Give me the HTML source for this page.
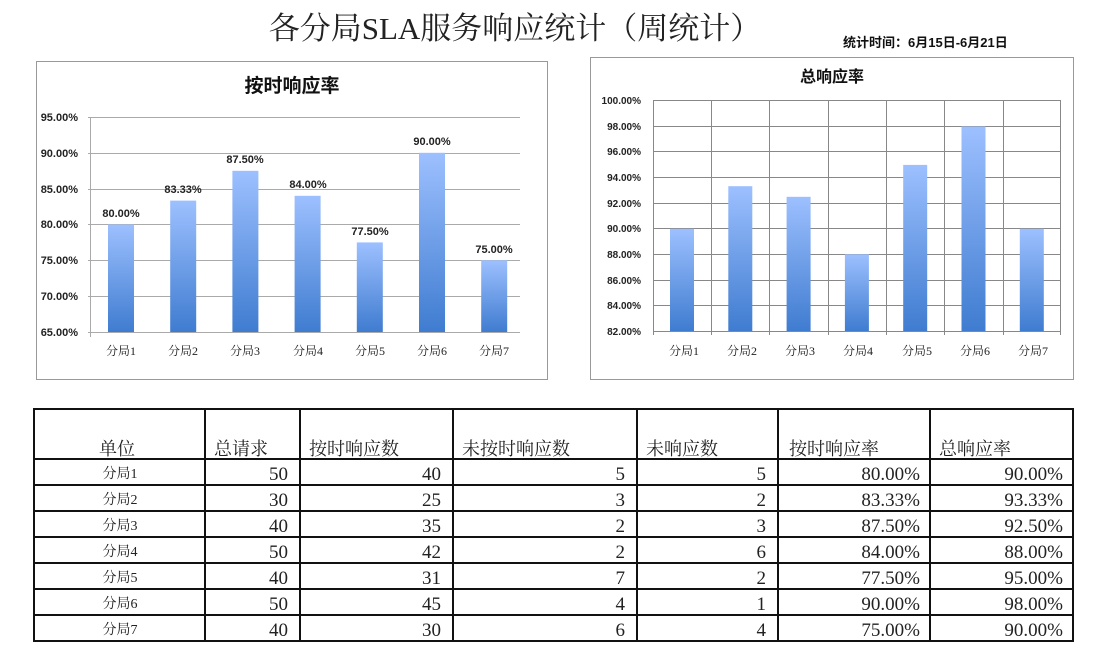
<!DOCTYPE html>
<html><head><meta charset="utf-8"><style>
body{margin:0;background:#fff;width:1100px;height:668px;overflow:hidden}
svg{display:block}
svg text{font-family:"Liberation Sans","Noto Sans CJK SC",sans-serif}
svg .s, svg .s text{font-family:"Liberation Serif","Noto Serif CJK SC","Noto Sans CJK SC",serif}
</style></head><body>
<svg width="1100" height="668" viewBox="0 0 1100 668">
<defs>
<linearGradient id="g" x1="0" y1="0" x2="0" y2="1"><stop offset="0" stop-color="#9dc0ff"/><stop offset="1" stop-color="#3f7cd0"/></linearGradient>
</defs>
<text x="515" y="39" font-size="31" text-anchor="middle" class="s" fill="#222">各分局SLA服务响应统计（周统计）</text>
<text x="843" y="47" font-size="13" font-weight="bold" fill="#111">统计时间：6月15日-6月21日</text>

<!-- left chart -->
<rect x="36.5" y="61.5" width="511" height="318" fill="#fff" stroke="#999"/>
<text x="292" y="92" font-size="19" font-weight="bold" text-anchor="middle" fill="#111">按时响应率</text>
<g stroke="#aaa" stroke-width="1">
<line x1="88" y1="117.5" x2="520" y2="117.5"/><line x1="88" y1="153.5" x2="520" y2="153.5"/><line x1="88" y1="189.5" x2="520" y2="189.5"/><line x1="88" y1="224.5" x2="520" y2="224.5"/><line x1="88" y1="260.5" x2="520" y2="260.5"/><line x1="88" y1="296.5" x2="520" y2="296.5"/><line x1="88" y1="332.5" x2="520" y2="332.5"/>
<line x1="90.5" y1="117" x2="90.5" y2="337"/>
</g>
<g font-size="11" fill="#222" text-anchor="end" font-weight="bold">
<text x="78" y="121">95.00%</text><text x="78" y="157">90.00%</text><text x="78" y="193">85.00%</text><text x="78" y="228">80.00%</text><text x="78" y="264">75.00%</text><text x="78" y="300">70.00%</text><text x="78" y="336">65.00%</text>
</g>
<g fill="url(#g)">
<rect x="108" y="224.5" width="26" height="107.5"/><rect x="170.2" y="200.6" width="26" height="131.4"/><rect x="232.4" y="170.8" width="26" height="161.2"/><rect x="294.6" y="195.8" width="26" height="136.2"/><rect x="356.8" y="242.4" width="26" height="89.6"/><rect x="419" y="152.8" width="26" height="179.2"/><rect x="481.2" y="260.3" width="26" height="71.7"/>
</g>
<g font-size="11" fill="#222" text-anchor="middle" font-weight="bold">
<text x="121" y="217">80.00%</text><text x="183" y="193">83.33%</text><text x="245" y="163">87.50%</text><text x="308" y="188">84.00%</text><text x="370" y="235">77.50%</text><text x="432" y="145">90.00%</text><text x="494" y="253">75.00%</text>
</g>
<g font-size="12" fill="#222" text-anchor="middle" class="s">
<text x="121" y="355">分局1</text><text x="183" y="355">分局2</text><text x="245" y="355">分局3</text><text x="308" y="355">分局4</text><text x="370" y="355">分局5</text><text x="432" y="355">分局6</text><text x="494" y="355">分局7</text>
</g>

<!-- right chart -->
<rect x="590.5" y="57.5" width="483" height="322" fill="#fff" stroke="#999"/>
<text x="832" y="82" font-size="16" font-weight="bold" text-anchor="middle" fill="#111">总响应率</text>
<g stroke="#888" stroke-width="1">
<line x1="653" y1="100.5" x2="1061" y2="100.5"/><line x1="653" y1="126.5" x2="1061" y2="126.5"/><line x1="653" y1="151.5" x2="1061" y2="151.5"/><line x1="653" y1="177.5" x2="1061" y2="177.5"/><line x1="653" y1="203.5" x2="1061" y2="203.5"/><line x1="653" y1="228.5" x2="1061" y2="228.5"/><line x1="653" y1="254.5" x2="1061" y2="254.5"/><line x1="653" y1="280.5" x2="1061" y2="280.5"/><line x1="653" y1="305.5" x2="1061" y2="305.5"/><line x1="653" y1="331.5" x2="1061" y2="331.5"/>
<line x1="653.5" y1="100" x2="653.5" y2="335"/><line x1="711.5" y1="100" x2="711.5" y2="335"/><line x1="769.5" y1="100" x2="769.5" y2="335"/><line x1="828.5" y1="100" x2="828.5" y2="335"/><line x1="886.5" y1="100" x2="886.5" y2="335"/><line x1="944.5" y1="100" x2="944.5" y2="335"/><line x1="1003.5" y1="100" x2="1003.5" y2="335"/><line x1="1060.5" y1="100" x2="1060.5" y2="335"/>
</g>
<g font-size="10" fill="#222" text-anchor="end" font-weight="bold">
<text x="641" y="104">100.00%</text><text x="641" y="130">98.00%</text><text x="641" y="155">96.00%</text><text x="641" y="181">94.00%</text><text x="641" y="207">92.00%</text><text x="641" y="232">90.00%</text><text x="641" y="258">88.00%</text><text x="641" y="284">86.00%</text><text x="641" y="309">84.00%</text><text x="641" y="335">82.00%</text>
</g>
<g fill="url(#g)">
<rect x="670" y="228.8" width="24" height="102.2"/><rect x="728.3" y="186.2" width="24" height="144.8"/><rect x="786.6" y="196.8" width="24" height="134.2"/><rect x="844.9" y="254.3" width="24" height="76.7"/><rect x="903.2" y="164.9" width="24" height="166.1"/><rect x="961.5" y="126.5" width="24" height="204.5"/><rect x="1019.8" y="228.8" width="24" height="102.2"/>
</g>
<g font-size="12" fill="#222" text-anchor="middle" class="s">
<text x="684" y="355">分局1</text><text x="742" y="355">分局2</text><text x="800" y="355">分局3</text><text x="858" y="355">分局4</text><text x="917" y="355">分局5</text><text x="975" y="355">分局6</text><text x="1033" y="355">分局7</text>
</g>

<!-- table -->
<g stroke="#111" stroke-width="2" fill="none">
<rect x="34" y="409" width="1039" height="232"/>
<line x1="205" y1="409" x2="205" y2="641"/><line x1="300" y1="409" x2="300" y2="641"/><line x1="453" y1="409" x2="453" y2="641"/><line x1="637" y1="409" x2="637" y2="641"/><line x1="778" y1="409" x2="778" y2="641"/><line x1="930" y1="409" x2="930" y2="641"/>
<line x1="34" y1="459" x2="1073" y2="459"/><line x1="34" y1="485" x2="1073" y2="485"/><line x1="34" y1="511" x2="1073" y2="511"/><line x1="34" y1="537" x2="1073" y2="537"/><line x1="34" y1="563" x2="1073" y2="563"/><line x1="34" y1="589" x2="1073" y2="589"/><line x1="34" y1="615" x2="1073" y2="615"/>
</g>
<g font-size="18" fill="#222" class="s">
<text x="99" y="455">单位</text><text x="214" y="455">总请求</text><text x="309" y="455">按时响应数</text><text x="462" y="455">未按时响应数</text><text x="646" y="455">未响应数</text><text x="789" y="455">按时响应率</text><text x="939" y="455">总响应率</text>
</g>
<g font-size="14" fill="#222" class="s" text-anchor="middle">
<text x="120" y="478">分局1</text><text x="120" y="504">分局2</text><text x="120" y="530">分局3</text><text x="120" y="556">分局4</text><text x="120" y="582">分局5</text><text x="120" y="608">分局6</text><text x="120" y="634">分局7</text>
</g>
<g font-size="19" fill="#222" class="s" text-anchor="end">
<text x="288" y="480">50</text><text x="441" y="480">40</text><text x="625" y="480">5</text><text x="766" y="480">5</text><text x="920" y="480">80.00%</text><text x="1063" y="480">90.00%</text>
<text x="288" y="506">30</text><text x="441" y="506">25</text><text x="625" y="506">3</text><text x="766" y="506">2</text><text x="920" y="506">83.33%</text><text x="1063" y="506">93.33%</text>
<text x="288" y="532">40</text><text x="441" y="532">35</text><text x="625" y="532">2</text><text x="766" y="532">3</text><text x="920" y="532">87.50%</text><text x="1063" y="532">92.50%</text>
<text x="288" y="558">50</text><text x="441" y="558">42</text><text x="625" y="558">2</text><text x="766" y="558">6</text><text x="920" y="558">84.00%</text><text x="1063" y="558">88.00%</text>
<text x="288" y="584">40</text><text x="441" y="584">31</text><text x="625" y="584">7</text><text x="766" y="584">2</text><text x="920" y="584">77.50%</text><text x="1063" y="584">95.00%</text>
<text x="288" y="610">50</text><text x="441" y="610">45</text><text x="625" y="610">4</text><text x="766" y="610">1</text><text x="920" y="610">90.00%</text><text x="1063" y="610">98.00%</text>
<text x="288" y="636">40</text><text x="441" y="636">30</text><text x="625" y="636">6</text><text x="766" y="636">4</text><text x="920" y="636">75.00%</text><text x="1063" y="636">90.00%</text>
</g>
</svg>
</body></html>
